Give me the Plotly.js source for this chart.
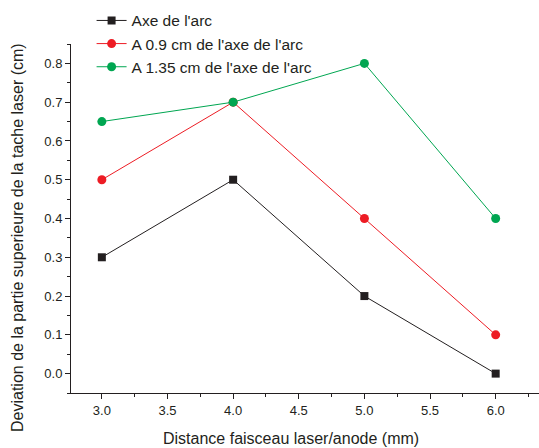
<!DOCTYPE html>
<html>
<head>
<meta charset="utf-8">
<script src="https://cdn.plot.ly/plotly-3.0.1.min.js"></script>
<style>html,body{margin:0;padding:0;background:#fff;}#chart{width:539px;height:448px;}</style>
</head>
<body>
<div id="chart"></div>
<script>
const distance = [3.0, 4.0, 5.0, 6.0];
const axeArc = [0.3, 0.5, 0.2, 0.0];
const a09cm = [0.5, 0.7, 0.4, 0.1];
const a135cm = [0.65, 0.7, 0.8, 0.4];
const seriesNames = ["Axe de l'arc", "A 0.9 cm de l'axe de l'arc", "A 1.35 cm de l'axe de l'arc"];

const textColor = '#231f20';
const font = "Arial, 'Liberation Sans', sans-serif";

const traces = [
  {x: distance, y: axeArc, name: seriesNames[0], mode: 'lines+markers',
   line: {color: '#231f20', width: 1}, marker: {symbol: 'square', size: 8, color: '#231f20'}},
  {x: distance, y: a09cm, name: seriesNames[1], mode: 'lines+markers',
   line: {color: '#ed1c24', width: 1}, marker: {symbol: 'circle', size: 9, color: '#ed1c24'}},
  {x: distance, y: a135cm, name: seriesNames[2], mode: 'lines+markers',
   line: {color: '#00a651', width: 1}, marker: {symbol: 'circle', size: 9, color: '#00a651'}}
];

const layout = {
  width: 539, height: 448,
  margin: {l: 71, r: 0, t: 44, b: 55},
  paper_bgcolor: '#fff', plot_bgcolor: '#fff',
  font: {family: font, color: textColor, size: 13},
  showlegend: true,
  legend: {x: 0.044, y: 1.115, xanchor: 'left', yanchor: 'top', bgcolor: 'rgba(0,0,0,0)',
           font: {size: 15.5, color: textColor}, tracegroupgap: 0},
  xaxis: {range: [2.765, 6.33], showgrid: false, zeroline: false, showline: true,
          linecolor: '#231f20', linewidth: 1, ticks: 'outside', ticklen: 5, tickwidth: 1,
          tickcolor: '#231f20', dtick: 0.5, tick0: 3, tickformat: '.1f',
          minor: {dtick: 0.25, ticks: 'outside', ticklen: 3, tickcolor: '#231f20', showgrid: false},
          tickfont: {size: 13}},
  yaxis: {range: [-0.05, 0.85], showgrid: false, zeroline: false, showline: true,
          linecolor: '#231f20', linewidth: 1, ticks: 'outside', ticklen: 5, tickwidth: 1,
          tickcolor: '#231f20', dtick: 0.1, tick0: 0, tickformat: '.1f',
          minor: {dtick: 0.05, ticks: 'outside', ticklen: 3, tickcolor: '#231f20', showgrid: false},
          tickfont: {size: 13}},
  annotations: [
    {text: 'Distance faisceau laser/anode (mm)', xref: 'paper', yref: 'paper',
     x: (291 - 71) / 468, y: -(438 - 393) / 349, xanchor: 'center', yanchor: 'middle',
     showarrow: false, font: {size: 16, color: textColor}},
    {text: 'Deviation de la partie superieure de la tache laser (cm)', xref: 'paper', yref: 'paper',
     x: -(71 - 17.5) / 468, y: (393 - 237.5) / 349, xanchor: 'center', yanchor: 'middle',
     textangle: -90, showarrow: false, font: {size: 16, color: textColor}}
  ]
};

Plotly.newPlot('chart', traces, layout, {displayModeBar: false, staticPlot: true});
</script>
</body>
</html>
